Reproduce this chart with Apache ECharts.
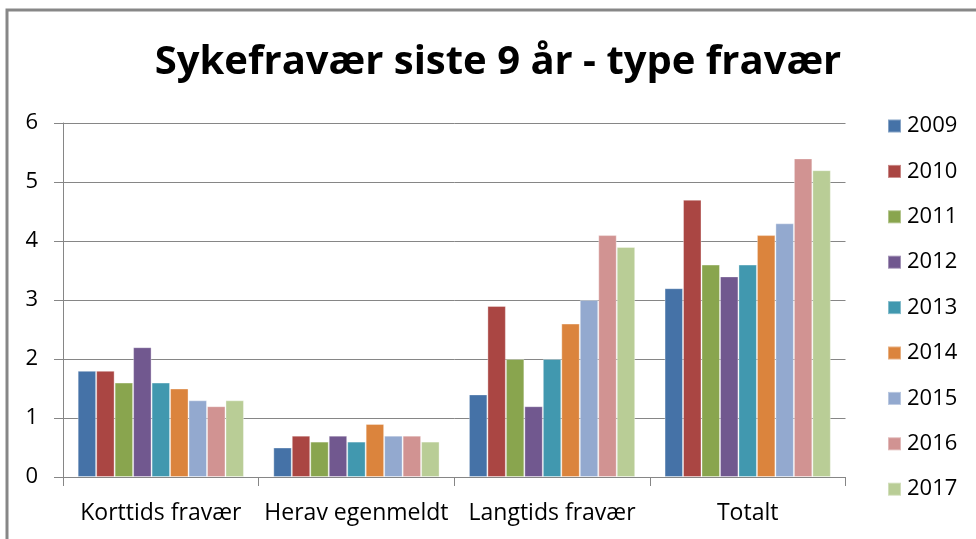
<!DOCTYPE html>
<html>
<head>
<meta charset="utf-8">
<script src="https://cdn.jsdelivr.net/npm/echarts@6/dist/echarts.min.js"></script>
<style>
html,body{margin:0;padding:0;background:#fff;}
#c{width:976px;height:539px;}
</style>
</head>
<body>
<div id="c"></div>
<script>
const categories = ['Korttids fravær', 'Herav egenmeldt', 'Langtids fravær', 'Totalt'];
const years = ['2009','2010','2011','2012','2013','2014','2015','2016','2017'];
const v2009 = [1.8, 0.5, 1.4, 3.2];
const v2010 = [1.8, 0.7, 2.9, 4.7];
const v2011 = [1.6, 0.6, 2.0, 3.6];
const v2012 = [2.2, 0.7, 1.2, 3.4];
const v2013 = [1.6, 0.6, 2.0, 3.6];
const v2014 = [1.5, 0.9, 2.6, 4.1];
const v2015 = [1.3, 0.7, 3.0, 4.3];
const v2016 = [1.2, 0.7, 4.1, 5.4];
const v2017 = [1.3, 0.6, 3.9, 5.2];
const yTicks = [0, 1, 2, 3, 4, 5, 6];
const seriesValues = [v2009, v2010, v2011, v2012, v2013, v2014, v2015, v2016, v2017];
const colors = ['#4572A7','#AA4643','#89A54E','#71588F','#4198AF','#DB843D','#93A9CF','#D19392','#B9CD96'];

const FONT = '"Open Sans", "Liberation Sans", sans-serif';
const chart = echarts.init(document.getElementById('c'), null, {renderer: 'canvas'});
chart.setOption({
  animation: false,
  backgroundColor: '#fff',
  color: colors,
  title: {
    text: 'Sykefravær siste 9 år - type fravær',
    left: 493, top: 38,
    textAlign: 'center',
    textStyle: {fontFamily: FONT, fontWeight: 'bold', fontSize: 40, color: '#000'}
  },
  graphic: [{
    type: 'rect', z: 100, silent: true,
    shape: {x: 7, y: 10, width: 1000, height: 600},
    style: {fill: 'none', stroke: '#878787', lineWidth: 3}
  }],
  legend: {
    orient: 'vertical',
    left: 882, top: 108,
    padding: 5,
    icon: 'rect',
    itemWidth: 13, itemHeight: 13,
    itemGap: 19.4,
    data: years,
    textStyle: {fontFamily: FONT, fontSize: 22, color: '#000', lineHeight: 26, height: 26, padding: [0,0,0,1]}
  },
  grid: {left: 63, right: 130.5, top: 123, bottom: 62, containLabel: false},
  xAxis: {
    type: 'category',
    data: categories,
    axisLine: {lineStyle: {color: '#868686', width: 1}},
    axisTick: {show: true, length: 9, lineStyle: {color: '#868686'}},
    axisLabel: {fontFamily: FONT, fontSize: 23, color: '#000', margin: 25, interval: 0}
  },
  yAxis: {
    type: 'value',
    min: yTicks[0], max: yTicks[yTicks.length - 1], interval: 1,
    axisLine: {show: true, lineStyle: {color: '#868686', width: 1}},
    axisTick: {show: true, length: 9, lineStyle: {color: '#868686'}},
    splitLine: {lineStyle: {color: '#868686', width: 1}},
    axisLabel: {fontFamily: FONT, fontSize: 22, color: '#000', margin: 25}
  },
  series: years.map((y, i) => ({
    name: y,
    type: 'bar',
    data: seriesValues[i],
    barGap: '0%',
    barCategoryGap: '15%',
    itemStyle: {color: colors[i], borderColor: 'rgba(255,255,255,0.35)', borderWidth: 1}
  }))
});
</script>
</body>
</html>
